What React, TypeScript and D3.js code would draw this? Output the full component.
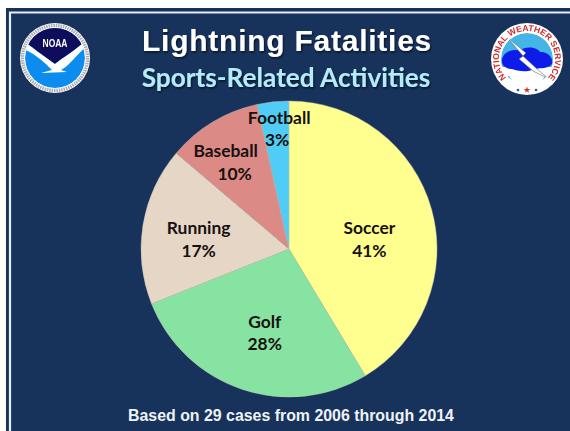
import React from "react";
import * as d3 from "d3";

const categories = ["Soccer", "Golf", "Running", "Baseball", "Football"];
const cases = [12, 8, 5, 3, 1];
const percentLabels = ["41%", "28%", "17%", "10%", "3%"];
const colors = ["#ffff8f", "#86e3a2", "#e6d6c6", "#dc8a86", "#4fcdf7"];
const labelRadius = [0.62, 0.62, 0.66, 0.7, 0.8];
const nameNudge: [number, number][] = [[-8, 14], [5, -4], [6, 5], [-10, 1], [3, -3]];
const pctNudge: [number, number][] = [[-8, 14], [5, -4], [6, 5], [-1, 1], [1, -4]];

const cx = 289, cy = 249, R = 148;
const NAVY = "#17335c";
const SANS = "'Liberation Sans', Arial, sans-serif";
const HUM = "Lato, 'Open Sans', sans-serif";

function NoaaLogo() {
  return (
    <g transform="translate(55,58)" filter="url(#soft)">
      <circle r={35} fill="#ffffff" />
      <circle r={32.5} fill="none" stroke="#8f949c" strokeWidth={3.4} strokeDasharray="1.6 0.8" opacity={0.75} />
      <clipPath id="noaaClip"><circle r={30} /></clipPath>
      <g clipPath="url(#noaaClip)">
        <circle r={30} fill="#0a8cf0" />
        <path d="M -32 -32 H 32 V -19 C 22 -8 10 -2 0 6 C -8 0 -20 -8 -32 -18 Z" fill="#10105c" />
        <path d="M -32 -18 C -20 -8 -8 0 0 6 C 10 -2 22 -8 32 -19 L 32 -12 C 22 -4 14 8 6 12 L 12 14 L -14 15 L -3 12 C -9 6 -20 -5 -32 -9 Z" fill="#ffffff" />
      </g>
      <text y={-11} textAnchor="middle" fontFamily={SANS} fontSize={10.5} fontWeight={700} fill="#ffffff"
        textLength={25} lengthAdjust="spacingAndGlyphs">NOAA</text>
    </g>
  );
}

function NwsLogo() {
  const star = d3.symbol().type(d3.symbolStar).size(14)() ?? "";
  return (
    <g transform="translate(527,59)" filter="url(#soft)">
      <circle r={36} fill="#ffffff" />
      <defs>
        <path id="nwsTop" d="M -14 24.2 A 28 28 0 1 1 14 24.2" />
        <clipPath id="nwsClip"><circle r={26} /></clipPath>
      </defs>
      <text fontFamily={SANS} fontSize={8.6} fontWeight={700} fill="#d22a2a">
        <textPath href="#nwsTop" startOffset="50%" textAnchor="middle">NATIONAL WEATHER SERVICE</textPath>
      </text>
      <g clipPath="url(#nwsClip)">
        <circle r={26} fill="#ffffff" />
        <path d="M -26 0 A 26 26 0 0 1 26 0 L 26 8 L -26 8 Z" fill="#45b4e6" />
        <path d="M -24 17 A 26 26 0 0 0 24 17 L 18 17 A 20 20 0 0 1 -18 17 Z" fill="#45b4e6" />
        <path d="M -25 1 C -24 -7 -14 -11 -7 -8 C -1 -14 11 -11 13 -7 C 21 -8 27 0 25 5 C 21 11 10 8 5 11 C -3 14 -11 11 -15 10 C -21 10 -26 6 -25 1 Z" fill="#0b1ee8" />
        <path d="M -20 -22 L -1 -6 L -4 -3 L 10 10 L 22 20 L 6 12 L -8 0 L -4 -3 Z" fill="#ffffff" stroke="#5b6478" strokeWidth={0.6} />
      </g>
      <path d={star} transform="translate(0,31)" fill="#d22a2a" />
      <circle cx={-9} cy={31} r={1.3} fill="#2a4fc0" />
      <circle cx={9} cy={31} r={1.3} fill="#2a4fc0" />
    </g>
  );
}

export default function App() {
  const pie = d3.pie<number>().sort(null)(cases);
  const arc = d3.arc<d3.PieArcDatum<number>>().innerRadius(0).outerRadius(R);

  return (
    <svg width={570} height={431} viewBox="0 0 570 431"
      style={{ position: "fixed", left: 0, top: 0, background: "#ffffff" }}>
      <defs>
        <filter id="soft" x="-10%" y="-10%" width="120%" height="120%"><feGaussianBlur stdDeviation={0.4} /></filter>
        <filter id="textShadow" x="-5%" y="-20%" width="110%" height="150%">
          <feDropShadow dx={1} dy={1.5} stdDeviation={1.2} floodColor="#000000" floodOpacity={0.65} />
        </filter>
        <filter id="edge" x="-5%" y="-5%" width="110%" height="110%">
          <feGaussianBlur stdDeviation={0.35} />
        </filter>
      </defs>

      <rect x={6} y={8} width={564} height={423} fill={NAVY} />
      <path d="M 10 431 V 12.5 H 570" fill="none" stroke="#e8edf4" strokeWidth={2.2} />

      <NoaaLogo />
      <NwsLogo />

      <text x={287} y={51} textAnchor="middle" fontFamily={SANS} fontSize={30} fontWeight={700}
        fill="#ffffff" letterSpacing={0.75} filter="url(#textShadow)">Lightning Fatalities</text>
      <text x={286} y={87} textAnchor="middle" fontFamily={HUM} fontSize={26.2} fontWeight={700}
        fill="#b5ecfb" filter="url(#textShadow)">Sports-Related Activities</text>

      <g transform={`translate(${cx},${cy})`} filter="url(#edge)">
        {pie.map((d, i) => (
          <path key={categories[i]} d={arc(d) ?? ""} fill={colors[i]} stroke="#c9c9b0" strokeOpacity={0.55} strokeWidth={0.8} />
        ))}
      </g>

      <g transform={`translate(${cx},${cy})`} textAnchor="middle" fontFamily={HUM} fontSize={17.4} fontWeight={700} fill="#17110f">
        {pie.map((d, i) => {
          const a = (d.startAngle + d.endAngle) / 2;
          const x = Math.sin(a) * R * labelRadius[i];
          const y = -Math.cos(a) * R * labelRadius[i];
          return (
            <g key={categories[i]}>
              <text x={x + nameNudge[i][0]} y={y - 4 + nameNudge[i][1]}>{categories[i]}</text>
              <text x={x + pctNudge[i][0]} y={y + 18.5 + pctNudge[i][1]}>{percentLabels[i]}</text>
            </g>
          );
        })}
      </g>

      <text x={291} y={421} textAnchor="middle" fontFamily={SANS} fontSize={15.9} fontWeight={700} fill="#eef2f6">
        Based on 29 cases from 2006 through 2014
      </text>
    </svg>
  );
}
